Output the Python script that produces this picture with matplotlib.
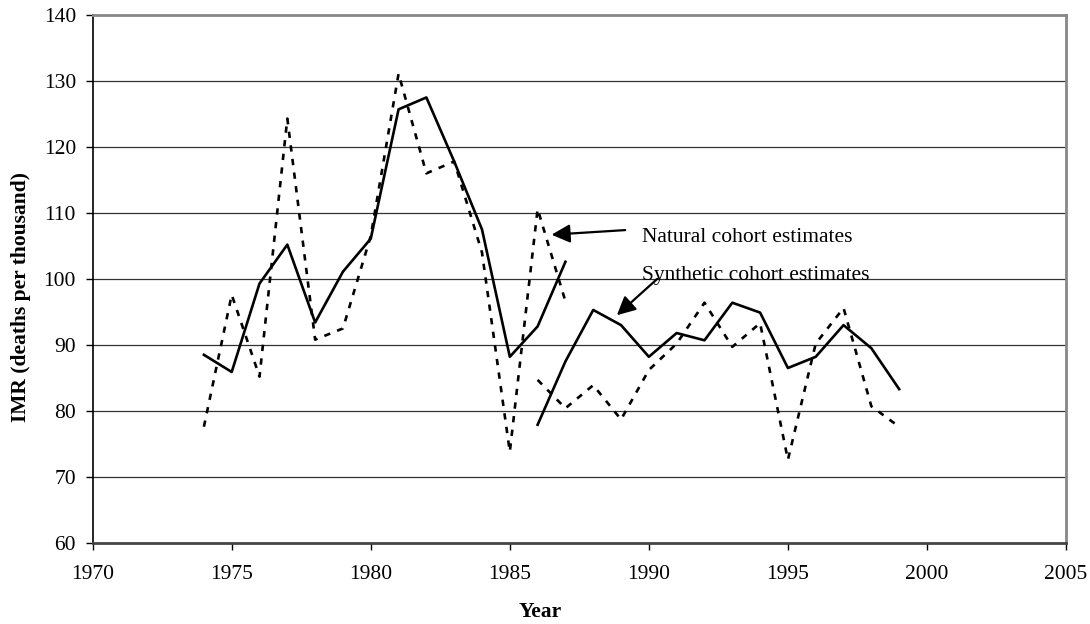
import matplotlib.pyplot as plt

plt.rcParams['font.family'] = ['Liberation Serif', 'DejaVu Serif']

# synthetic cohort estimates (solid line), two pieces
syn_years_a = [1974, 1975, 1976, 1977, 1978, 1979, 1980, 1981, 1982, 1983, 1984, 1985, 1986, 1987]
syn_vals_a = [88.5, 85.9, 99.3, 105.2, 93.4, 101.1, 106.1, 125.7, 127.5, 117.8, 107.5, 88.2, 92.8, 102.6]
syn_years_b = [1986, 1987, 1988, 1989, 1990, 1991, 1992, 1993, 1994, 1995, 1996, 1997, 1998, 1999]
syn_vals_b = [77.9, 87.5, 95.3, 93.0, 88.2, 91.8, 90.7, 96.4, 94.9, 86.5, 88.2, 93.0, 89.5, 83.3]

# natural cohort estimates (dotted line), two pieces
nat_years_a = [1974, 1975, 1976, 1977, 1978, 1979, 1980, 1981, 1982, 1983, 1984, 1985, 1986, 1987]
nat_vals_a = [77.6, 97.6, 85.2, 124.3, 90.8, 92.5, 106.5, 131.1, 116.0, 117.8, 104.0, 73.8, 110.6, 96.6]
nat_years_b = [1986, 1987, 1988, 1989, 1990, 1991, 1992, 1993, 1994, 1995, 1996, 1997, 1998, 1999]
nat_vals_b = [84.7, 80.4, 83.9, 78.7, 86.2, 90.2, 96.4, 89.7, 93.3, 72.6, 90.2, 95.6, 80.7, 77.6]

x_ticks = [1970, 1975, 1980, 1985, 1990, 1995, 2000, 2005]
y_ticks = [60, 70, 80, 90, 100, 110, 120, 130, 140]

fs = 15.5

fig = plt.figure(figsize=(10.9, 6.24), dpi=100)
ax = fig.add_axes([0.085, 0.130, 0.893, 0.846])

# horizontal grid lines
for y in y_ticks[1:-1]:
    ax.axhline(y, color='#333333', lw=0.9, zorder=1)

dots = (0, (2.4, 2.8))
ax.plot(nat_years_a, nat_vals_a, color='black', lw=1.9, linestyle=dots, zorder=3)
ax.plot(nat_years_b, nat_vals_b, color='black', lw=1.9, linestyle=dots, zorder=3)
ax.plot(syn_years_a, syn_vals_a, color='black', lw=1.9, zorder=4)
ax.plot(syn_years_b, syn_vals_b, color='black', lw=1.9, zorder=4)

ax.set_xlim(1970, 2005)
ax.set_ylim(60, 140)
ax.set_xticks(x_ticks)
ax.set_yticks(y_ticks)
ax.tick_params(labelsize=fs, length=5, width=1, color='black', direction='out')
ax.tick_params(axis='x', pad=11)
ax.tick_params(axis='y', pad=7)

ax.spines['left'].set_color('black')
ax.spines['left'].set_linewidth(1.2)
ax.spines['bottom'].set_color('#444444')
ax.spines['bottom'].set_linewidth(2)
ax.spines['top'].set_color('#888888')
ax.spines['top'].set_linewidth(2)
ax.spines['right'].set_color('#888888')
ax.spines['right'].set_linewidth(2)

ax.set_xlabel('Year', fontsize=fs, fontweight='bold')
ax.xaxis.set_label_coords(0.46, -0.112)
ax.set_ylabel('IMR (deaths per thousand)', fontsize=fs, fontweight='bold')
ax.yaxis.set_label_coords(-0.0635, 0.466)

arrow = dict(arrowstyle='-|>', color='black', lw=1.6, mutation_scale=28, shrinkA=0, shrinkB=0)
ax.text(1989.75, 105.65, 'Natural cohort estimates', fontsize=fs, va='baseline', ha='left')
ax.annotate('', xy=(1986.5, 106.7), xytext=(1989.15, 107.4), arrowprops=arrow)
ax.text(1989.75, 99.85, 'Synthetic cohort estimates', fontsize=fs, va='baseline', ha='left')
ax.annotate('', xy=(1988.85, 94.5), xytext=(1990.3, 100.0), arrowprops=arrow)

fig.savefig('out.png', dpi=100)
